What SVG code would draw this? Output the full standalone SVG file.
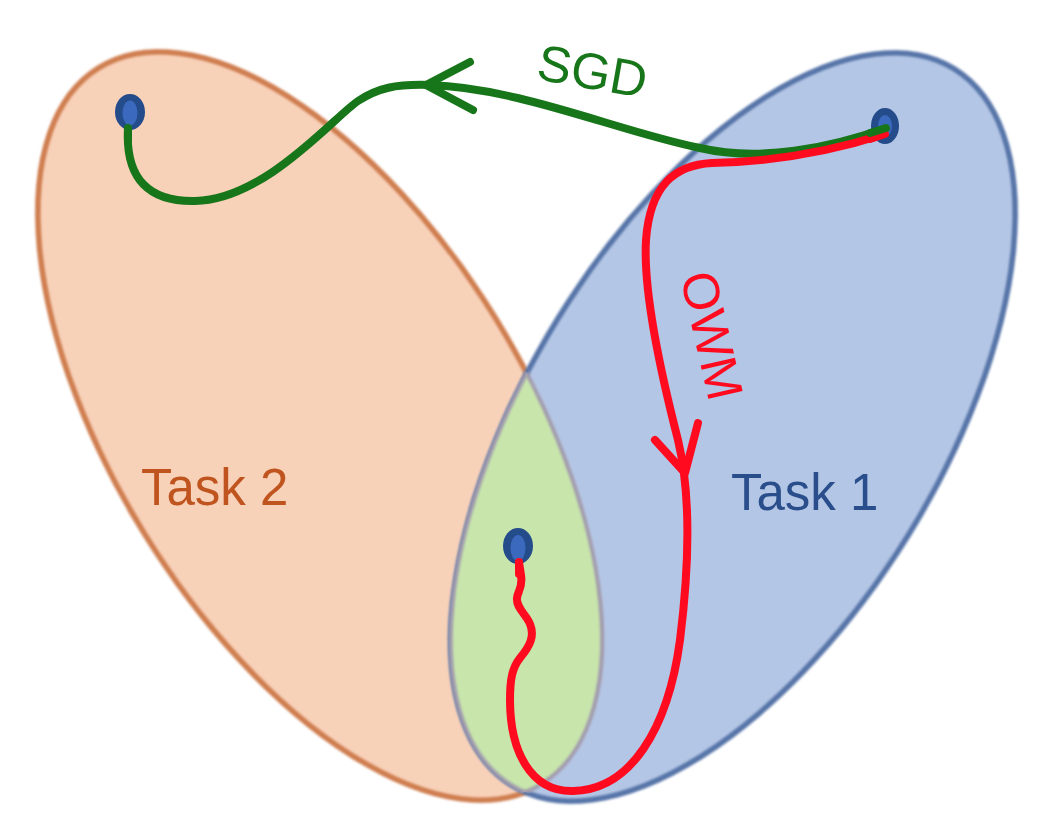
<svg xmlns="http://www.w3.org/2000/svg" width="1048" height="832" viewBox="0 0 1048 832">
  <style>
    .lbl { font-family: "Liberation Sans", Arial, sans-serif; font-size: 51px; }
    .curve { fill: none; stroke-width: 8; stroke-linecap: round; stroke-linejoin: round; }
    .sgd { stroke: #18761A; }
    .owm { stroke: #FF0A1E; }
    .dotOuter { fill: #244B8A; }
    .dotInner { fill: #3B69BD; }
  </style>
  <defs>
    <filter id="soft" x="-10%" y="-10%" width="120%" height="120%">
      <feGaussianBlur stdDeviation="0.9"/>
    </filter>
    <clipPath id="clipO">
      <ellipse cx="0" cy="0" rx="421" ry="206" transform="translate(320 426) rotate(58.3)"/>
    </clipPath>
    <clipPath id="clipB">
      <ellipse cx="0" cy="0" rx="421" ry="206" transform="translate(733 427) rotate(-58.3)"/>
    </clipPath>
  </defs>
  <rect width="1048" height="832" fill="#FFFFFF"/>

  <g id="task2">
    <ellipse cx="0" cy="0" rx="421" ry="206" transform="translate(320 426) rotate(58.3)" fill="#F8D1B9"/>
    <ellipse cx="0" cy="0" rx="421" ry="206" transform="translate(320 426) rotate(58.3)" fill="none" stroke="#CF7E50" stroke-width="5.5" filter="url(#soft)"/>
    <text class="lbl" x="141" y="505" fill="#C0541F">Task 2</text>
  </g>

  <g id="task1">
    <ellipse cx="0" cy="0" rx="421" ry="206" transform="translate(733 427) rotate(-58.3)" fill="#B4C6E5"/>
    <ellipse cx="0" cy="0" rx="421" ry="206" transform="translate(733 427) rotate(-58.3)" fill="none" stroke="#5675A8" stroke-width="5.5" filter="url(#soft)"/>
    <text class="lbl" x="731" y="510" fill="#2A4E8C">Task 1</text>
  </g>

  <g id="overlap">
    <g clip-path="url(#clipO)">
      <ellipse cx="0" cy="0" rx="421" ry="206" transform="translate(733 427) rotate(-58.3)" fill="#C8E5AC" stroke="#A39CAD" stroke-width="4" filter="url(#soft)"/>
    </g>
    <g clip-path="url(#clipB)">
      <ellipse cx="0" cy="0" rx="421" ry="206" transform="translate(320 426) rotate(58.3)" fill="none" stroke="#A39CAD" stroke-width="4" filter="url(#soft)"/>
    </g>
  </g>

  <g id="connectors">
    <g id="sgd-path">
      <path class="curve sgd" d="M 886 128 C 830 148, 760 162, 700 148 C 620 132, 520 88, 430 85 C 395 84, 378 88, 358 101 C 335 116, 265 200, 195 201 C 150 202, 125 180, 128 128"/>
      <path class="curve sgd" d="M 470 62 L 426 85 L 473 110"/>
      <text class="lbl" x="535" y="79" font-size="53" fill="#18761A" transform="rotate(10 535 79)">SGD</text>
    </g>
    <g id="owm-path">
      <path class="curve owm" d="M 885 134 C 820 155, 760 162, 712 163 C 675 165, 650 185, 646 240 C 643 290, 660 370, 678 440 C 690 490, 690 560, 680 640 C 668 730, 630 790, 573 791 C 530 792, 510 750, 510 700 C 510 680, 512 668, 520 658 C 530 646, 535 636, 530 624 C 526 614, 516 608, 517 598 C 518 590, 523 588, 521 575 L 519 562"/>
      <path class="curve owm" d="M 655 440 L 685 473 L 698 423"/>
      <text class="lbl" x="680" y="276" font-size="51" fill="#FF0A1E" transform="rotate(77 680 276)">OWM</text>
    </g>
  </g>

  <g id="dot-task2">
    <ellipse class="dotOuter" cx="130" cy="112" rx="15" ry="18"/>
    <ellipse class="dotInner" cx="130" cy="113" rx="7.5" ry="12.5"/>
  </g>
  <g id="dot-task1">
    <ellipse class="dotOuter" cx="885" cy="126" rx="14" ry="18"/>
    <ellipse class="dotInner" cx="885" cy="126" rx="7" ry="11"/>
  </g>
  <g id="dot-joint">
    <ellipse class="dotOuter" cx="518" cy="546" rx="15" ry="18"/>
    <ellipse class="dotInner" cx="518" cy="548" rx="7.5" ry="13"/>
  </g>

  <g id="curve-ends">
    <path class="curve sgd" d="M 128 140 L 128 128"/>
    <path class="curve owm" d="M 885 134 L 870 139"/>
    <path class="curve sgd" d="M 886 128 L 870 133"/>
    <path class="curve owm" d="M 519 574 L 519 562"/>
  </g>
</svg>
